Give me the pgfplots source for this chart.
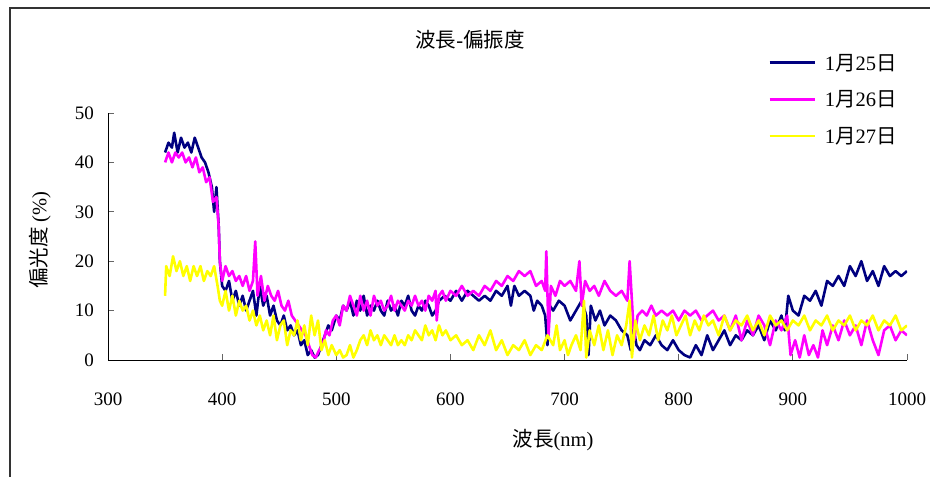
\documentclass[border=0pt]{standalone}
\usepackage{pgfplots}
\pgfplotsset{compat=1.18}
\usepackage{fontspec}
\setmainfont{Liberation Serif}
\newfontfamily\cjk{Noto Sans CJK TC}
\definecolor{cnavy}{RGB}{0,0,128}
\definecolor{cmag}{RGB}{255,0,255}
\definecolor{cyel}{RGB}{255,255,0}
\newcommand{\fs}{\fontsize{19}{22}\selectfont}
\newcommand{\fst}{\fontsize{20.5}{24}\selectfont}
\begin{document}
\begin{tikzpicture}
\useasboundingbox (0,0) rectangle (930pt,477pt);
\draw[black!80, line width=1.2pt] (10pt,0pt) -- (10pt,469pt) -- (930pt,469pt);
\begin{axis}[
  at={(108pt,117pt)}, anchor=south west,
  scale only axis, width=799pt, height=247pt,
  xmin=300, xmax=1000, ymin=0, ymax=50,
  axis x line=bottom, axis y line=left,
  axis line style={-, black, line width=1pt},
  xtick={300,400,...,1000}, ytick={0,10,...,50},
  tick align=inside, major tick length=6pt,
  tick style={black!60, line width=1pt},
  /pgf/number format/assume math mode=true,
  /pgf/number format/1000 sep={},
  ticklabel style={font=\fs},
  yticklabel style={inner sep=0pt, xshift=-14pt},
  xticklabel style={inner sep=0pt, yshift=-33pt},
  legend style={at={(0.826,1.248)}, anchor=north west, draw=none, fill=none,
    font=\fst, row sep=15pt, inner sep=0pt},
  legend cell align=left,
  legend image code/.code={\draw[#1, line width=2.8pt] (0pt,0pt) -- (45pt,0pt); \path (52pt,0pt);},
  every axis plot/.append style={line width=2.6pt, line join=round},
]
\addplot[cnavy] table {
350 42
353 44
356 43
358 46
361 42
364 45
367 43
370 44
373 42
376 45
379 43
382 41
385 40
388 38
391 35
393 30
395 35
397 27
398 20
400 15
403 14
406 16
409 12
412 14
415 11
418 13
421 10
424 12
427 14
430 9
433 15
436 11
439 13
442 9
445 11
448 8
451 7
454 9
457 6
460 7
463 5
466 6
469 3
472 4
475 1
478 2
481 0.5
484 1
487 3
490 5
493 7
496 6
500 9
503 8
506 11
509 10
512 12
515 9
518 12
521 10
524 13
527 9
530 11
533 10
536 12
539 10
542 9
545 12
548 10
551 11
554 9
557 12
560 11
563 13
566 10
569 9
572 11
575 10
578 12
581 11
584 9
587 10
590 12
595 13
600 12
605 14
610 12
615 14
620 13
625 12
630 13
635 12
640 14
645 13
650 15
653 11
656 15
660 13
665 14
670 13
673 10
676 12
680 11
683 9
685 3
687 11
690 10
695 12
700 11
705 8
710 10
715 12
719 9
721 1
723 11
727 8
731 10
735 7
740 9
745 8
750 6
755 5
758 2
760 7
763 3
766 2
770 4
775 3
780 5
785 3
790 2
795 4
800 2
805 1
810 0.5
815 3
820 1
825 5
830 2
835 4
840 6
845 3
850 5
855 4
860 6
865 5
870 7
875 4
880 8
885 6
890 9
893 6
896 13
900 10
905 9
910 13
915 12
920 14
925 11
930 16
935 15
940 17
945 15
950 19
955 17
960 20
965 16
970 18
975 15
980 19
985 17
990 18
995 17
1000 18
};
\addlegendentry{1{\cjk 月}25{\cjk 日}}
\addplot[cmag] table {
350 40
353 42
356 40
359 42
362 41
365 42
368 40
371 41
374 39
377 41
380 38
383 39
386 36
389 37
392 32
395 33
397 27
398 20
400 16
403 19
406 17
409 18
412 16
415 17
418 15
421 17
424 14
427 16
429 24
431 13
434 17
437 12
440 15
443 13
446 12
449 14
452 11
455 10
458 12
461 9
464 8
467 7
470 6
473 5
476 3
479 1
482 0.5
485 2
488 3
491 6
494 5
497 8
500 9
503 7
506 11
509 10
512 13
515 11
518 9
521 13
524 10
527 12
530 9
533 13
536 11
539 12
542 10
545 11
548 13
551 10
554 12
557 11
560 10
563 12
566 11
569 13
572 11
575 12
578 10
581 13
584 12
587 14
588 8
590 13
593 14
596 12
600 14
605 13
610 15
615 13
620 14
625 13
630 15
635 14
640 16
645 15
650 17
655 16
660 18
665 17
670 18
675 15
680 16
683 14
684 22
686 5
688 15
692 13
696 16
700 15
705 16
710 14
713 20
715 11
718 16
722 14
726 15
730 13
735 16
740 14
745 13
750 14
755 12
757 20
759 12
761 4
764 9
768 10
772 9
776 11
780 9
785 10
790 9
795 10
800 8
805 10
810 9
815 10
820 8
825 9
830 10
835 8
840 9
845 6
850 9
855 4
860 8
865 5
870 9
875 7
880 3
885 8
890 6
895 9
898 1
902 4
906 0.5
910 5
914 1
918 3
922 0.5
926 6
930 3
935 7
940 4
945 8
950 5
955 7
960 3
965 8
970 4
975 1
980 6
985 7
990 4
995 6
1000 5
};
\addlegendentry{1{\cjk 月}26{\cjk 日}}
\addplot[cyel] table {
350 13
351 19
354 17
357 21
360 18
363 20
366 17
369 19
372 16
375 19
378 17
381 19
384 16
387 18
390 17
393 19
396 15
398 12
400 11
403 14
406 10
409 13
412 9
415 12
418 10
421 11
424 8
427 10
430 7
433 9
436 6
439 8
442 5
445 9
448 4
451 7
454 8
457 3
460 6
463 5
466 8
469 4
472 7
475 3
478 9
481 5
484 8
487 2
490 4
493 1
496 3
500 1
503 2
506 0.5
509 1
512 3
515 0.5
518 2
521 4
524 5
527 3
530 6
533 4
536 5
539 3
542 5
545 4
548 3
551 5
554 3
557 4
560 3
563 5
566 4
569 6
572 5
575 4
578 7
581 5
584 6
587 4
590 7
593 5
596 6
600 4
605 5
610 3
615 4
620 2
625 5
630 3
635 6
640 2
645 4
650 1
655 3
660 2
665 4
670 1
675 3
680 2
685 5
690 3
693 7
696 2
700 4
703 1
706 3
710 5
714 2
717 12
719 0.5
722 6
726 3
730 7
734 2
738 6
742 1
746 5
750 3
754 7
757 12
759 0.5
762 8
766 4
770 7
774 5
778 9
782 4
786 8
790 6
794 9
798 5
802 7
806 9
810 5
814 8
818 6
822 9
826 7
830 8
835 5
840 9
845 6
850 8
855 7
860 9
865 6
870 8
875 5
880 9
885 7
890 8
895 6
900 8
905 7
910 9
915 6
920 8
925 7
930 9
935 6
940 8
945 7
950 9
955 6
960 8
965 7
970 9
975 6
980 8
985 7
990 9
995 6
1000 7
};
\addlegendentry{1{\cjk 月}27{\cjk 日}}
\end{axis}
\node[font=\fst] at (470pt,437pt) {{\cjk 波長}-{\cjk 偏振度}};
\node[font=\fst] at (553pt,37pt) {{\cjk 波長}(nm)};
\node[font=\fst, rotate=90] at (40pt,237pt) {{\cjk 偏光度} (\%)};
\end{tikzpicture}
\end{document}
